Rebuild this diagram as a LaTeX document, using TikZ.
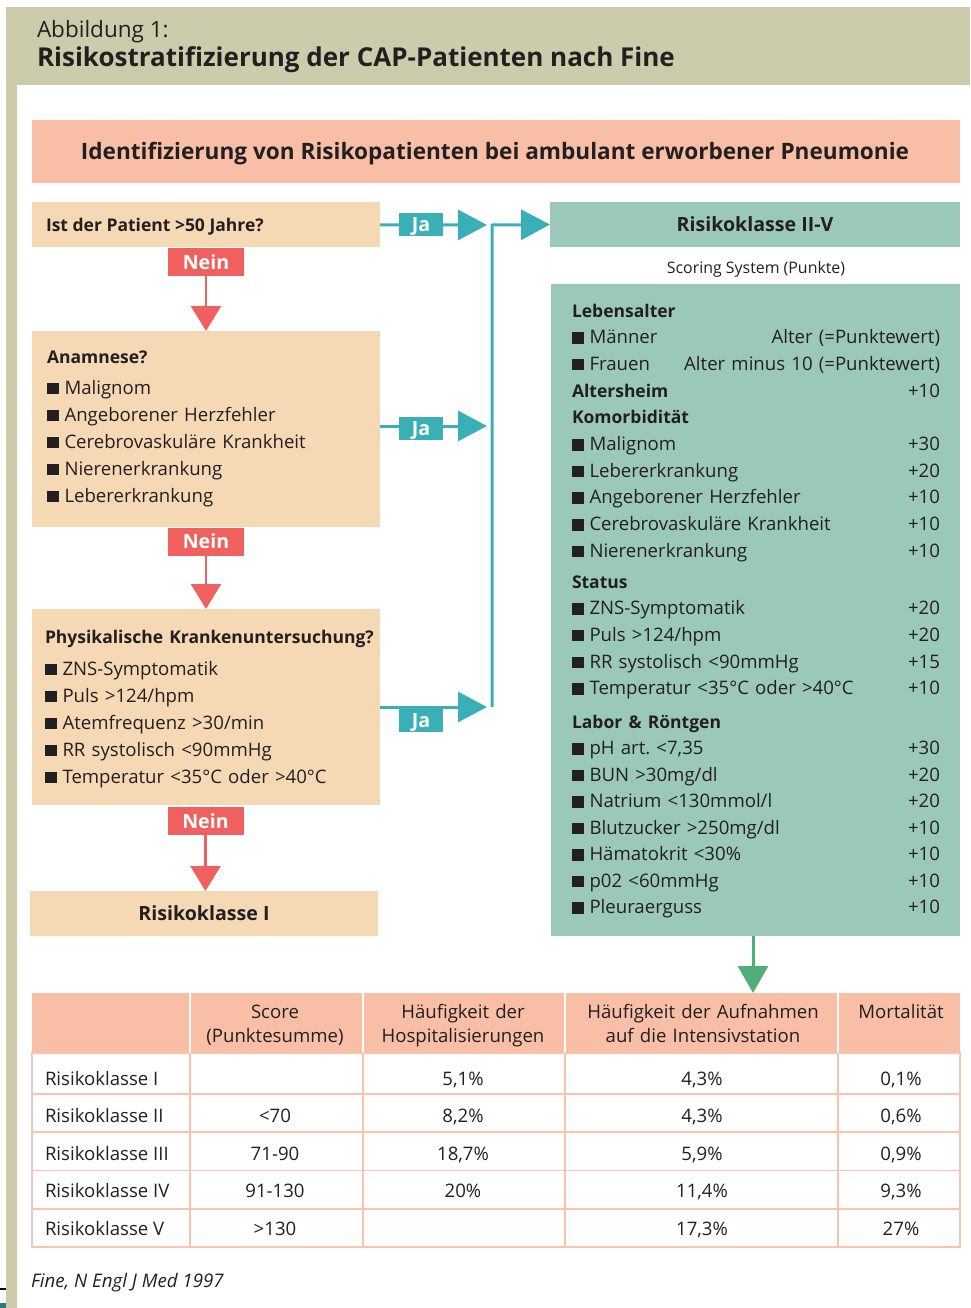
\documentclass[tikz,border=0pt]{standalone}
\usepackage{fontspec}
\setmainfont{Open Sans}
\usetikzlibrary{arrows.meta, positioning}

\definecolor{kopfbeige}{RGB}{204,204,172}
\definecolor{lachs}{RGB}{248,191,166}
\definecolor{hautbox}{RGB}{245,216,180}
\definecolor{mint}{RGB}{155,201,184}
\definecolor{jablau}{RGB}{59,175,182}
\definecolor{neinrot}{RGB}{239,96,94}
\definecolor{pfeilgruen}{RGB}{80,174,120}
\definecolor{tinte}{RGB}{35,31,32}
\definecolor{tabstrich}{RGB}{248,196,176}

\newcommand{\grund}{\fontsize{18.6}{27}\selectfont}
\newcommand{\fett}{\bfseries\fontsize{17.5}{27}\selectfont}
\newcommand{\kopf}[1]{{\fett #1}}
\newcommand{\bul}{\rule{11.5pt}{11.5pt}\hspace{6pt}}
\newcommand{\wert}[2]{\makebox[368pt][l]{#1\hfill#2}}

\begin{document}
\begin{tikzpicture} [x=1pt, y=-1pt,
    every node/.style={inner sep=0pt, outer sep=0pt, text=tinte},
    frage/.style={fill=hautbox, minimum width=348pt},
    nein/.style={fill=neinrot, text=white, font=\bfseries\fontsize{19.6}{24}\selectfont,
        text depth=0pt, minimum width=76pt, minimum height=28pt},
    ja/.style={fill=jablau, text=white, font=\bfseries\fontsize{19.6}{24}\selectfont,
        text depth=0pt, minimum width=44pt, minimum height=23pt},
    neinpfeil/.style={draw=neinrot, line width=2.6pt,
        -{Triangle[length=25pt, width=30pt]}},
    japfeil/.style={draw=jablau, line width=3pt,
        -{Triangle[length=29pt, width=30pt]}},
    gruenpfeil/.style={draw=pfeilgruen, line width=3pt,
        -{Triangle[length=27pt, width=30pt]}},
    liste/.style={anchor=base west, text width=368pt, align=left, font=\grund},
    spalte/.style={anchor=base, text width=270pt, align=center,
        font=\fontsize{18.6}{24}\selectfont},
    tabstr/.style={draw=tabstrich, line width=1.2pt}]

\useasboundingbox (0,0) rectangle (970,1308);

% Kopf
\fill [kopfbeige] (6,7) rectangle (970,85);
\fill [kopfbeige] (6,85) rectangle (17,1308);
\fill [black] (0,1288) rectangle (6,1290);
\fill [jablau!70!black] (0,1303) rectangle (6,1308);

\node (abb) [anchor=base west, font=\fontsize{22.5}{24}\selectfont] at (37,38) {Abbildung 1:};
\node (titel) [anchor=base west, font=\bfseries\fontsize{26}{30}\selectfont] at (37,67)
    {Risikostratifizierung der CAP-Patienten nach Fine};

\node (ident) [fill=lachs, minimum width=928pt, minimum height=63pt] at (496,151.5) {};
\node (identt) [anchor=base, font=\bfseries\fontsize{22.6}{26}\selectfont] at (495,160)
    {Identifizierung von Risikopatienten bei ambulant erworbener Pneumonie};

% linke Spalte
\node (alter) [frage, minimum height=45pt] at (206,224.5) {};
\node (alterq) [anchor=base west, font=\fett] at (46,231) {Ist der Patient >50 Jahre?};

\node (anam) [frage, minimum height=196pt] at (206,429) {};
\node (anamq) [liste] at (47,363) {\kopf{Anamnese?}\\[4pt]
    \bul Malignom\\
    \bul Angeborener Herzfehler\\
    \bul Cerebrovaskuläre Krankheit\\
    \bul Nierenerkrankung\\
    \bul Lebererkrankung};

\node (phys) [frage, minimum height=196pt] at (206,707) {};
\node (physq) [liste] at (45,643) {\kopf{Physikalische Krankenuntersuchung?}\\[5pt]
    \bul ZNS-Symptomatik\\
    \bul Puls >124/hpm\\
    \bul Atemfrequenz >30/min\\
    \bul RR systolisch <90mmHg\\
    \bul Temperatur <35°C oder >40°C};

\node (rk1) [frage, minimum height=45pt, font=\bfseries\fontsize{19.6}{24}\selectfont]
    at (204,913.5) {Risikoklasse I};

\node (nein1) [nein] at (206,262) {Nein};
\node (nein2) [nein] at (206,541.5) {Nein};
\node (nein3) [nein] at (205.5,821) {Nein};

\draw [neinpfeil] (nein1) -- (anam);
\draw [neinpfeil] (nein2) -- (phys);
\draw [neinpfeil] (nein3.south) -- (nein3.south |- rk1.north);

% Ja-Pfeile
\coordinate (spitze1) at (487,225);
\coordinate (spitze2) at (487,426);
\coordinate (spitze3) at (487,707);
\coordinate (knick) at (492,225);
\coordinate (fuss) at (492,707);

\draw [japfeil] (alter) -- (spitze1);
\draw [japfeil] (anam.east |- spitze2) -- (spitze2);
\draw [japfeil] (phys.east) -- (spitze3);

\node (ja1) [ja] at (421,224.5) {Ja};
\node (ja2) [ja] at (421,428.5) {Ja};
\node (ja3) [ja] at (421,720) {Ja};

% rechte Spalte
\node (rk25) [fill=mint, minimum width=410pt, minimum height=45pt,
    font=\bfseries\fontsize{19.6}{24}\selectfont] at (755,224.5) {Risikoklasse II-V};
\draw [japfeil] (fuss) -- (knick) -- (rk25.west);

\node (scoring) [anchor=base, font=\fontsize{15.9}{18}\selectfont] at (756,273) {Scoring System (Punkte)};

\node (punkte) [fill=mint, minimum width=409pt, minimum height=652pt] at (755.5,610) {};

\node (lebens) [liste, font=\fontsize{18.6}{26.7}\selectfont] at (572,317) {\kopf{Lebensalter}\\
    \wert{\bul Männer}{Alter (=Punktewert)}\\
    \wert{\bul Frauen}{Alter minus 10 (=Punktewert)}\\
    \wert{\kopf{Altersheim}}{+10}\\
    \kopf{Komorbidität}\\
    \wert{\bul Malignom}{+30}\\
    \wert{\bul Lebererkrankung}{+20}\\
    \wert{\bul Angeborener Herzfehler}{+10}\\
    \wert{\bul Cerebrovaskuläre Krankheit}{+10}\\
    \wert{\bul Nierenerkrankung}{+10}};

\node (status) [liste, font=\fontsize{18.6}{26.7}\selectfont] at (572,588) {\kopf{Status}\\
    \wert{\bul ZNS-Symptomatik}{+20}\\
    \wert{\bul Puls >124/hpm}{+20}\\
    \wert{\bul RR systolisch <90mmHg}{+15}\\
    \wert{\bul Temperatur <35°C oder >40°C}{+10}};

\node (labor) [liste, font=\fontsize{18.6}{26.5}\selectfont] at (572,728) {\kopf{Labor \& Röntgen}\\
    \wert{\bul pH art.\ <7,35}{+30}\\
    \wert{\bul BUN >30mg/dl}{+20}\\
    \wert{\bul Natrium <130mmol/l}{+20}\\
    \wert{\bul Blutzucker >250mg/dl}{+10}\\
    \wert{\bul Hämatokrit <30\%}{+10}\\
    \wert{\bul p02 <60mmHg}{+10}\\
    \wert{\bul Pleuraerguss}{+10}};

% Tabelle
\node (tkopf) [fill=lachs, minimum width=928pt, minimum height=60pt] at (496,1023) {};
\draw [gruenpfeil] (punkte.south -| 753,0) -- (tkopf.north -| 753,0);

\draw [tabstr] (32,1053) rectangle (960,1247);
\foreach \y in {1094, 1132, 1170.5, 1209}
    \draw [tabstr] (32,\y) -- (960,\y);
\foreach \x in {190, 363, 565, 838} {
    \draw [white, line width=1.5pt] (\x,993) -- (\x,1053);
    \draw [tabstr] (\x,1053) -- (\x,1247);
}

\node (hscore) [spalte] at (275,1018) {Score\\(Punktesumme)};
\node (hhosp) [spalte] at (463,1018) {Häufigkeit der\\Hospitalisierungen};
\node (hint) [spalte] at (703,1018) {Häufigkeit der Aufnahmen\\auf die Intensivstation};
\node (hmort) [spalte] at (901,1018) {Mortalität};

\foreach \kls/\pkt/\hos/\its/\mor [count=\zeile] in {
    {Risikoklasse I}/{}/{5,1\%}/{4,3\%}/{0,1\%},
    {Risikoklasse II}/{<70}/{8,2\%}/{4,3\%}/{0,6\%},
    {Risikoklasse III}/{71-90}/{18,7\%}/{5,9\%}/{0,9\%},
    {Risikoklasse IV}/{91-130}/{20\%}/{11,4\%}/{9,3\%},
    {Risikoklasse V}/{>130}/{}/{17,3\%}/{27\%}} {
    \node (kl\zeile) [anchor=base west, font=\grund] at (45,1047.5+37.5*\zeile) {\kls};
    \node (pkt\zeile) [anchor=base, font=\grund] at (275,1047.5+37.5*\zeile) {\pkt};
    \node (hos\zeile) [anchor=base, font=\grund] at (463,1047.5+37.5*\zeile) {\hos};
    \node (its\zeile) [anchor=base, font=\grund] at (702,1047.5+37.5*\zeile) {\its};
    \node (mor\zeile) [anchor=base, font=\grund] at (901,1047.5+37.5*\zeile) {\mor};
}

\node (quelle) [anchor=base west, font=\itshape\fontsize{18.7}{20}\selectfont] at (31,1287)
    {Fine, N Engl J Med 1997};
\end{tikzpicture}
\end{document}
